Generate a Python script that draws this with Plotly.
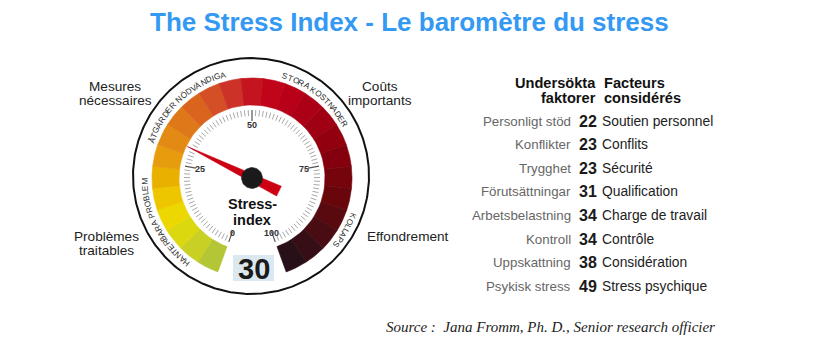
import math
import plotly.graph_objects as go

# ---------------- data ----------------
TITLE = "The Stress Index - Le baromètre du stress"
INDEX_VALUE = 30
SCALE_TICKS = [0, 25, 50, 75, 100]

sv_labels = ["Personligt stöd", "Konflikter", "Trygghet", "Förutsättningar",
             "Arbetsbelastning", "Kontroll", "Uppskattning", "Psykisk stress"]
factor_values = [22, 23, 23, 31, 34, 34, 38, 49]
fr_labels = ["Soutien personnel", "Conflits", "Sécurité", "Qualification",
             "Charge de travail", "Contrôle", "Considération", "Stress psychique"]

arc_texts = ["HANTERBARA PROBLEM", "ÅTGÄRDER NÖDVÄNDIGA", "STORA KOSTNADER", "KOLLAPS"]
arc_mid_angles = [-117, -42.5, 39, 119.5]

zone_labels = [["Mesures", "nécessaires"], ["Problèmes", "traitables"],
               ["Coûts", "importants"], ["Effondrement"]]
SOURCE = "Source :  Jana Fromm, Ph. D., Senior research officier"

band_colors = ["#b4c636", "#c8d024", "#dcd810", "#ecd800", "#eec600", "#eab000",
               "#e69c0c", "#e28a14", "#de7818", "#da641e", "#d44e26", "#cc3228",
               "#c41420", "#c0041a", "#b80018", "#ac0016", "#a00014", "#920010",
               "#84000e", "#76040c", "#68060c", "#580a0e", "#480c12", "#380e16",
               "#281018"]

# ---------------- geometry / style ----------------
W, H = 819, 359
OFF = 8                          # page body margin compensation
CX, CY = 252, 178
A0, A1 = -160.0, 160.0          # angle (deg, clockwise from top) of value 0 and 100
R_BAND_IN, R_BAND_OUT = 73, 100
R_CIRCLE = 118
R_TEXT = 107
FONT = "Liberation Sans, Arial, sans-serif"


def ang(v):
    return A0 + (A1 - A0) * v / 100.0


def pt(a_deg, r, cx=CX, cy=CY):
    a = math.radians(a_deg)
    return cx + r * math.sin(a), cy - r * math.cos(a)


fig = go.Figure()

# outer circle
xs, ys = [], []
for k in range(361):
    x, y = pt(k, R_CIRCLE, 251, 176)
    xs.append(x); ys.append(y)
fig.add_trace(go.Scatter(x=xs, y=ys, mode="lines", line=dict(color="#111", width=2),
                         hoverinfo="skip"))

# coloured band
n = len(band_colors)
for i, c in enumerate(band_colors):
    v0, v1 = 100 * i / n, 100 * (i + 1) / n
    a0, a1 = ang(v0), ang(v1)
    steps = 8
    outer = [pt(a0 + (a1 - a0) * s / steps, R_BAND_OUT) for s in range(steps + 1)]
    inner = [pt(a1 - (a1 - a0) * s / steps, R_BAND_IN) for s in range(steps + 1)]
    poly = outer + inner + [outer[0]]
    fig.add_trace(go.Scatter(x=[p[0] for p in poly], y=[p[1] for p in poly],
                             mode="lines", fill="toself", fillcolor=c,
                             line=dict(color=c, width=0.6), hoverinfo="skip"))

# ticks
mx, my, Mx, My = [], [], [], []
for v in range(0, 101):
    a = ang(v)
    if v in SCALE_TICKS:
        p1, p2 = pt(a, 57), pt(a, 68)
        Mx += [p1[0], p2[0], None]; My += [p1[1], p2[1], None]
    else:
        p1, p2 = pt(a, 62), pt(a, 68)
        mx += [p1[0], p2[0], None]; my += [p1[1], p2[1], None]
fig.add_trace(go.Scatter(x=mx, y=my, mode="lines", line=dict(color="#a8a8a8", width=1),
                         hoverinfo="skip"))
fig.add_trace(go.Scatter(x=Mx, y=My, mode="lines", line=dict(color="#555", width=1.2),
                         hoverinfo="skip"))

annotations = []
for v in SCALE_TICKS:
    x, y = pt(ang(v), 53 if v not in (0, 100) else 58)
    annotations.append(dict(x=x, y=y, text=f"<b>{v}</b>", showarrow=False,
                            font=dict(family=FONT, size=9, color="#333"),
                            xanchor="center", yanchor="middle"))

# needle
a = ang(INDEX_VALUE)
tip = pt(a, 72)
t1 = pt(a + 180, 30)
perp = a + 90
dx, dy = 5.5 * math.sin(math.radians(perp)), -5.5 * math.cos(math.radians(perp))
needle = [tip, (t1[0] + dx, t1[1] + dy), (t1[0] - dx, t1[1] - dy), tip]
fig.add_trace(go.Scatter(x=[p[0] for p in needle], y=[p[1] for p in needle], mode="lines",
                         fill="toself", fillcolor="#cc0012", line=dict(color="#cc0012", width=0.5),
                         hoverinfo="skip"))
# hub
hx, hy = [], []
for k in range(0, 361, 6):
    x, y = pt(k, 10.5)
    hx.append(x); hy.append(y)
fig.add_trace(go.Scatter(x=hx, y=hy, mode="lines", fill="toself", fillcolor="#1a1a1a",
                         line=dict(color="#1a1a1a", width=0.5), hoverinfo="skip"))

# curved arc text
cw = {"A": .667, "B": .667, "D": .722, "E": .667, "G": .778, "H": .722, "I": .278,
      "K": .667, "L": .556, "M": .833, "N": .722, "O": .778, "P": .667, "R": .722,
      "S": .667, "T": .611, "V": .667, "Ä": .667, "Å": .667, "Ö": .778, " ": .278}
FS_ARC = 8.2
SPACING = 8.4
for txt, mid in zip(arc_texts, arc_mid_angles):
    widths = [cw.get(ch, .667) * SPACING for ch in txt]
    total = sum(widths)
    span = total / R_TEXT * 180 / math.pi
    start = mid - span / 2
    acc = 0.0
    for ch, w in zip(txt, widths):
        ca = start + (acc + w / 2) / R_TEXT * 180 / math.pi
        acc += w
        if ch == " ":
            continue
        x, y = pt(ca, R_TEXT)
        annotations.append(dict(x=x, y=y, text=ch, showarrow=False, textangle=ca,
                                font=dict(family=FONT, size=FS_ARC, color="#2a2a2a"),
                                xanchor="center", yanchor="middle"))

# centre label and value box
annotations.append(dict(x=CX, y=203.5, text="<b>Stress-</b>", showarrow=False,
                        font=dict(family=FONT, size=14.5, color="#111"), yanchor="middle"))
annotations.append(dict(x=CX, y=220, text="<b>index</b>", showarrow=False,
                        font=dict(family=FONT, size=14.5, color="#111"), yanchor="middle"))
fig.add_shape(type="rect", x0=233, x1=274, y0=255, y1=281, xref="x", yref="y",
              fillcolor="#dce8f0", line=dict(width=0), layer="below")
annotations.append(dict(x=253.5, y=268.5, text=f"<b>{INDEX_VALUE}</b>", showarrow=False,
                        font=dict(family=FONT, size=29, color="#1a1a1a"), yanchor="middle"))

# zone labels around the gauge
zone_pos = [(115, 86), (106, 236), (380, 86), (408, 236)]
for lines, (zx, zy) in zip(zone_labels, zone_pos):
    for j, line in enumerate(lines):
        annotations.append(dict(x=zx, y=zy + 14 * j, text=line, showarrow=False,
                                font=dict(family=FONT, size=13.6, color="#222"),
                                xanchor="center", yanchor="middle"))

# title
annotations.append(dict(x=409, y=22, text=f"<b>{TITLE}</b>", showarrow=False,
                        font=dict(family=FONT, size=26, color="#3399f3"),
                        xanchor="center", yanchor="middle"))

# table headers
for j, (a_, b_) in enumerate([("Undersökta", "Facteurs"), ("faktorer", "considérés")]):
    y = 83 + 15 * j
    annotations.append(dict(x=598, y=y, text=f"<b>{a_}</b>", showarrow=False,
                            font=dict(family=FONT, size=14.6, color="#111"),
                            xanchor="right", yanchor="middle"))
    annotations.append(dict(x=602, y=y, text=f"<b>{b_}</b>", showarrow=False,
                            font=dict(family=FONT, size=14.6, color="#111"),
                            xanchor="left", yanchor="middle"))

# table rows
for i, (s, v, f) in enumerate(zip(sv_labels, factor_values, fr_labels)):
    y = 121 + 23.6 * i
    annotations.append(dict(x=573, y=y, text=s, showarrow=False,
                            font=dict(family=FONT, size=13.3, color="#666"),
                            xanchor="right", yanchor="middle"))
    annotations.append(dict(x=587.5, y=y, text=f"<b>{v}</b>", showarrow=False,
                            font=dict(family=FONT, size=16, color="#1a1a1a"),
                            xanchor="center", yanchor="middle"))
    annotations.append(dict(x=599.5, y=y, text=f, showarrow=False,
                            font=dict(family=FONT, size=13.8, color="#222"),
                            xanchor="left", yanchor="middle"))

# source
annotations.append(dict(x=717, y=327, text=f"<i>{SOURCE}</i>", showarrow=False,
                        font=dict(family="Liberation Serif, Times New Roman, serif", size=15,
                                  color="#222"),
                        xanchor="right", yanchor="middle"))

fig.update_layout(
    width=W, height=H, margin=dict(l=0, r=0, t=0, b=0),
    paper_bgcolor="white", plot_bgcolor="white", showlegend=False,
    xaxis=dict(range=[OFF, W + OFF], visible=False, fixedrange=True),
    yaxis=dict(range=[H + OFF, OFF], visible=False, fixedrange=True),
    annotations=annotations,
)
fig.write_html("out.html")
